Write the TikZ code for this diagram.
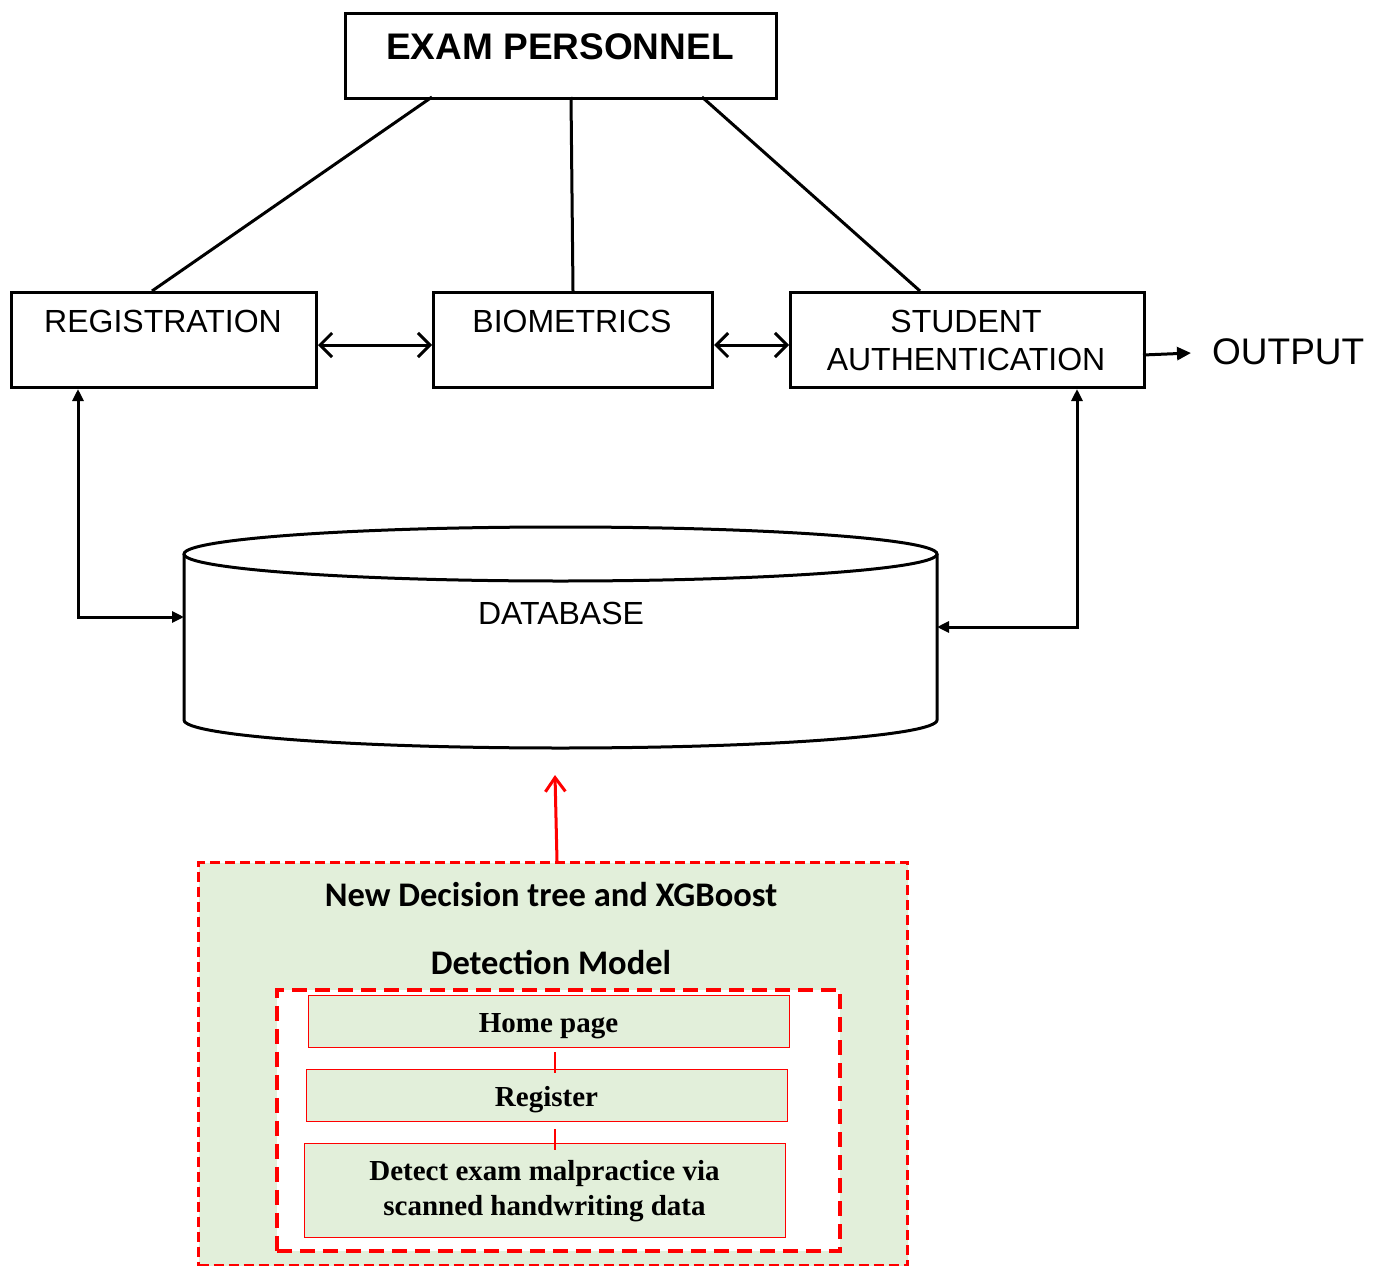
\documentclass[tikz,border=0pt]{standalone}
\usepackage{fontspec}
\setmainfont{Liberation Sans}
\newfontfamily\calib{Carlito}
\newfontfamily\timesf{Liberation Serif}
\usetikzlibrary{arrows.meta}
\definecolor{lgreen}{HTML}{E2EFDA}
\begin{document}
\begin{tikzpicture}[x=1pt,y=-1pt,
  blk/.style={draw, line width=3pt, inner sep=0pt, anchor=north west, fill=white},
  lbl/.style={inner sep=0pt, font=\fontsize{32}{38}\selectfont, align=center},
  conn/.style={line width=3pt},
  barb/.style={line width=3pt, {Straight Barb[length=12pt,width=24pt]}-{Straight Barb[length=12pt,width=24pt]}},
  tri/.style={line width=3pt, {Triangle[length=12pt,width=11pt]}-{Triangle[length=12pt,width=11pt]}},
  gbox/.style={draw=red, line width=1.3pt, fill=lgreen, anchor=north west, inner sep=0pt},
  gtxt/.style={inner sep=0pt, font=\timesf\bfseries\fontsize{29}{35}\selectfont, align=center},
  ttl/.style={inner sep=0pt, font=\calib\bfseries\fontsize{34.5}{38}\selectfont}
]
\useasboundingbox (0,0) rectangle (1382,1266);

% top boxes
\node[blk, minimum width=431, minimum height=85] (exam) at (344,12) {};
\node[inner sep=0pt, font=\bfseries\fontsize{37}{40}\selectfont] (examt) at (560,47) {EXAM PERSONNEL};

\node[blk, minimum width=305, minimum height=95] (reg) at (10,291) {};
\node[lbl] (regt) at (163,321) {REGISTRATION};

\node[blk, minimum width=279, minimum height=95] (bio) at (432,291) {};
\node[lbl] (biot) at (572,321) {BIOMETRICS};

\node[blk, minimum width=354, minimum height=95] (stu) at (789,291) {};
\node[lbl] (stut) at (966,340) {STUDENT\\AUTHENTICATION};

\node[inner sep=0pt, font=\fontsize{37}{40}\selectfont, anchor=west] (out) at (1212,352) {OUTPUT};

% lines from exam personnel
\coordinate (e1) at (432,97);  \coordinate (r1) at (152,291);
\coordinate (e2) at (571,97);  \coordinate (b1) at (573,291);
\coordinate (e3) at (702,97);  \coordinate (s1) at (920,291);
\draw[conn] (e1) -- (r1);
\draw[conn] (e2) -- (b1);
\draw[conn] (e3) -- (s1);

% double arrows
\draw[barb] (reg.east |- 0,345) -- (bio.west |- 0,345);
\draw[barb] (bio.east |- 0,345) -- (stu.west |- 0,345);

% output arrow
\coordinate (so) at (1143,355);
\coordinate (oe) at (1191,353);
\draw[line width=3pt, -{Triangle[length=14pt,width=13pt]}] (so) -- (oe);

% database cylinder
\draw[line width=3pt, fill=white] (184,554) -- (184,720) arc[start angle=180, end angle=0, x radius=376.5, y radius=28] -- (937,554);
\draw[line width=3pt] (560.5,554) ellipse[x radius=376.5, y radius=27];
\node[inner sep=0pt, minimum width=753, minimum height=194, anchor=north west] (db) at (184,554) {};
\node[lbl] (dbt) at (561,613) {DATABASE};

% db connectors
\coordinate (dbin1) at (184,617);
\coordinate (c1) at (78,617);
\coordinate (dbin2) at (937,627);
\coordinate (c2) at (1077,627);
\draw[tri] (reg.south -| c1) -- (c1) -- (dbin1);
\draw[tri] (stu.south -| c2) -- (c2) -- (dbin2);

% green outer box
\node[draw=red, line width=3.3pt, dash pattern=on 10pt off 5pt, fill=lgreen, anchor=north west, minimum width=709, minimum height=403, inner sep=0pt] (outer) at (197,861) {};
\coordinate (ra) at (557,861);
\coordinate (rb) at (555,775);
\draw[red, line width=3pt, -{Straight Barb[length=14pt,width=20pt]}] (ra) -- (rb);

\node[ttl] (t1) at (551,895) {New Decision tree and XGBoost};
\node[ttl] (t2) at (551,962) {Detection Model};

\node[draw=red, line width=3.5pt, dash pattern=on 15pt off 8pt, fill=white, anchor=north west, minimum width=563, minimum height=261, inner sep=0pt] (inner) at (275,988) {};

\node[gbox, minimum width=481, minimum height=52] (home) at (308,995) {};
\node[gtxt] (homet) at (548.5,1026) {Home page};
\node[gbox, minimum width=481, minimum height=52] (regi) at (306,1069) {};
\node[gtxt] (regit) at (546.5,1100) {Register};
\node[gbox, minimum width=481, minimum height=94] (det) at (304,1143) {};
\node[gtxt] (dett) at (544.5,1191) {Detect exam malpractice via\\scanned handwriting data};

\coordinate (l1a) at (555,1052); \coordinate (l1b) at (555,1073);
\coordinate (l2a) at (555,1129); \coordinate (l2b) at (555,1150);
\draw[red, line width=1.3pt] (l1a) -- (l1b);
\draw[red, line width=1.3pt] (l2a) -- (l2b);
\end{tikzpicture}
\end{document}
